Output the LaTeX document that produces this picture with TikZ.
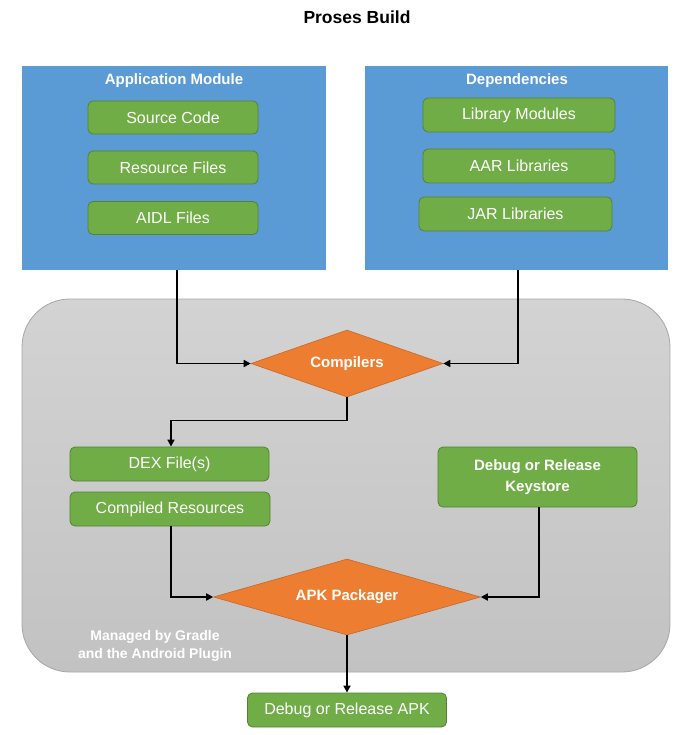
\documentclass[tikz,border=0pt]{standalone}
\usepackage{fontspec}
\setmainfont{Liberation Sans}
\usetikzlibrary{shapes.geometric,arrows.meta,calc}
\definecolor{blueM}{HTML}{5B9BD5}
\definecolor{greenM}{HTML}{70AD47}
\definecolor{greenB}{HTML}{548235}
\definecolor{orangeM}{HTML}{ED7D31}
\definecolor{orangeB}{HTML}{C5692A}
\definecolor{grayT}{HTML}{D3D3D3}
\definecolor{grayBt}{HTML}{C2C2C2}
\definecolor{grayLine}{HTML}{A6A6A6}
\tikzset{
  gbox/.style={draw=greenB, fill=greenM, rounded corners=5pt, line width=0.8pt,
    text=white, inner sep=0pt, font=\fontsize{16}{19}\selectfont, align=center},
  bbox/.style={fill=blueM, inner sep=0pt},
  btitle/.style={text=white, font=\bfseries\fontsize{15}{18}\selectfont},
  dia/.style={diamond, draw=orangeB, fill=orangeM, inner sep=0pt, line width=0.6pt,
    text=white, font=\bfseries\fontsize{15}{18}\selectfont},
  arr/.style={line width=1.6pt, -{Triangle[length=7pt,width=7pt]}},
}
\begin{document}
\begin{tikzpicture}[x=1pt,y=-1pt]
\useasboundingbox (0,0) rectangle (692,735);
% title
\node[font=\bfseries\fontsize{17.5}{20}\selectfont] (title) at (357,17) {Proses Build};
% gray managed area
\shade[top color=grayT, bottom color=grayBt, draw=grayLine, line width=0.8pt, rounded corners=48pt]
  (22,299) rectangle (670,672);
\node[text=white, font=\bfseries\fontsize{14}{18}\selectfont, align=center] (managed) at (155,646)
  {Managed by Gradle\\and the Android Plugin};
% blue boxes
\node[bbox, minimum width=304pt, minimum height=204pt] (app) at (174,168) {};
\node[bbox, minimum width=303pt, minimum height=204pt] (dep) at (516.5,168) {};
\node[btitle] (appT) at (174,81) {Application Module};
\node[btitle] (depT) at (517,81) {Dependencies};
% green boxes in app module
\node[gbox, minimum width=170pt, minimum height=33pt] (src) at (173,117.5) {Source Code};
\node[gbox, minimum width=170pt, minimum height=33pt] (res) at (173,167.5) {Resource Files};
\node[gbox, minimum width=170pt, minimum height=33pt] (aidl) at (173,218) {AIDL Files};
% dependencies
\node[gbox, minimum width=192pt, minimum height=34pt] (lib) at (519,115) {Library Modules};
\node[gbox, minimum width=192pt, minimum height=34pt] (aar) at (519,166) {AAR Libraries};
\node[gbox, minimum width=193pt, minimum height=34pt] (jar) at (515.5,214) {JAR Libraries};
% compilers
\node[dia, aspect=2.87, minimum width=192pt, minimum height=67pt] (comp) at (347,363.5) {Compilers};
% outputs
\node[gbox, minimum width=199pt, minimum height=34pt] (dex) at (169.5,464) {DEX File(s)};
\node[gbox, minimum width=200pt, minimum height=34pt] (cres) at (170,509) {Compiled Resources};
\node[gbox, minimum width=199pt, minimum height=60pt, font=\bfseries\fontsize{15}{21}\selectfont] (key) at (537.5,477) {Debug or Release\\Keystore};
% apk packager
\node[dia, aspect=3.5, minimum width=267pt, minimum height=76pt] (apk) at (347,597) {APK Packager};
\node[gbox, minimum width=199pt, minimum height=34pt] (final) at (347,710) {Debug or Release APK};
% connectors
\draw[arr] ([xshift=3pt]app.south) |- (comp.west);
\draw[arr] ([xshift=1.5pt]dep.south) |- (comp.east);
\draw[arr] (comp.south) -- ++(0,23) -| ([xshift=1.5pt]dex.north);
\draw[arr] ([xshift=1pt]cres.south) |- (apk.west);
\draw[arr] ([xshift=1.5pt]key.south) |- (apk.east);
\draw[arr] (apk.south) -- (final.north);
\end{tikzpicture}
\end{document}
